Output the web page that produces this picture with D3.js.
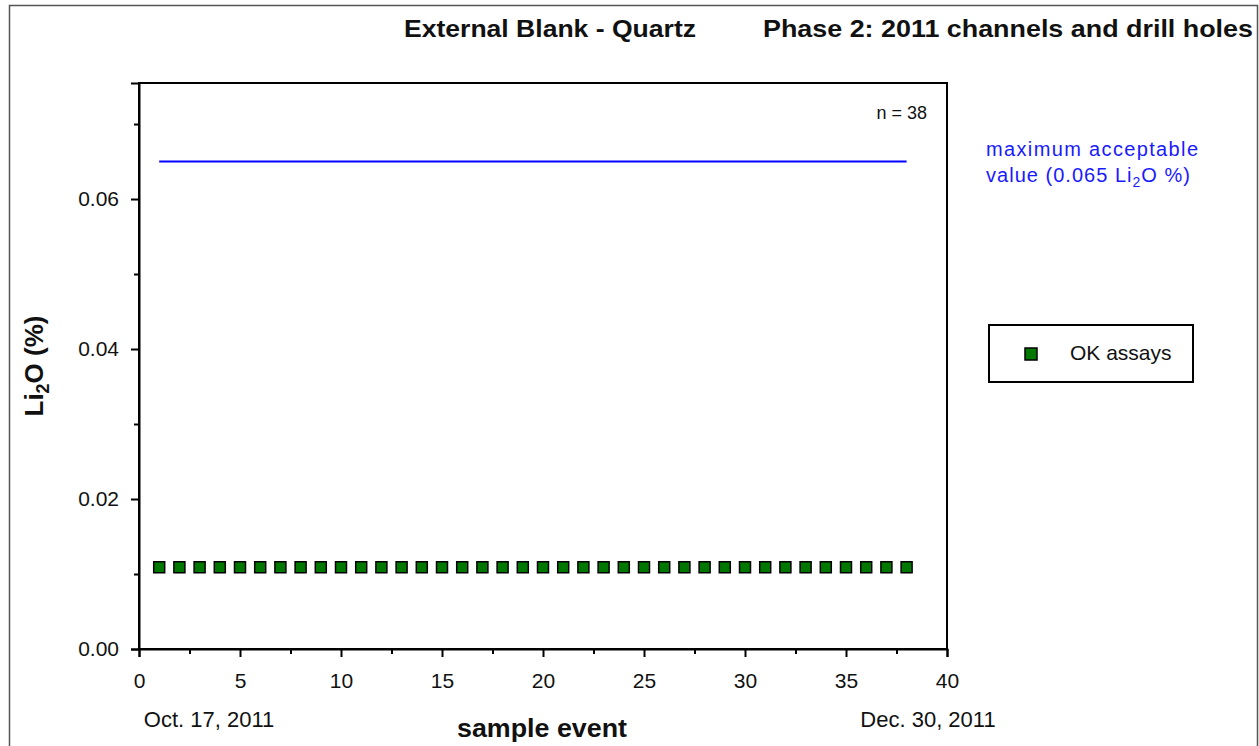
<!DOCTYPE html>
<html>
<head>
<meta charset="utf-8">
<script src="https://cdn.jsdelivr.net/npm/d3@7"></script>
<style>
  html, body { margin: 0; padding: 0; background: #fff; }
  svg { display: block; font-family: "Liberation Sans", Arial, sans-serif; }
</style>
</head>
<body>
<svg id="chart" width="1259" height="746"></svg>
<script>
// Sample events (1..38) and their Li2O assay results (%)
const sampleEvents = d3.range(1, 39);
const li2oValues = [
  0.0109, 0.0109, 0.0109, 0.0109, 0.0109, 0.0109, 0.0109, 0.0109, 0.0109, 0.0109,
  0.0109, 0.0109, 0.0109, 0.0109, 0.0109, 0.0109, 0.0109, 0.0109, 0.0109, 0.0109,
  0.0109, 0.0109, 0.0109, 0.0109, 0.0109, 0.0109, 0.0109, 0.0109, 0.0109, 0.0109,
  0.0109, 0.0109, 0.0109, 0.0109, 0.0109, 0.0109, 0.0109, 0.0109
];
const maxAcceptable = 0.065;
const xTicks = [0, 5, 10, 15, 20, 25, 30, 35, 40];
const xMinorTicks = [2.5, 7.5, 12.5, 17.5, 22.5, 27.5, 32.5, 37.5];
const yTicks = [0.00, 0.02, 0.04, 0.06];
const yMinorTicks = [0.01, 0.03, 0.05, 0.07];

const svg = d3.select("#chart");

// Outer page frame
svg.append("path")
  .attr("d", "M9.5,760 V5.5 H1257.5 V760")
  .attr("fill", "none").attr("stroke", "#555").attr("stroke-width", 1.5);

const plot = { left: 139, right: 947, top: 83, bottom: 649 };

const x = d3.scaleLinear().domain([0, 40]).range([plot.left, plot.right]);
const y = d3.scaleLinear().domain([0, 0.07547]).range([plot.bottom, plot.top]);

// Plot frame
svg.append("rect")
  .attr("x", plot.left).attr("y", plot.top)
  .attr("width", plot.right - plot.left).attr("height", plot.bottom - plot.top)
  .attr("fill", "none").attr("stroke", "#000").attr("stroke-width", 2);

// X axis
svg.append("g").attr("transform", `translate(0,${plot.bottom})`)
  .call(d3.axisBottom(x).tickValues(xTicks).tickFormat(d3.format("d")).tickSize(8).tickPadding(16));
svg.append("g").attr("transform", `translate(0,${plot.bottom})`)
  .call(d3.axisBottom(x).tickValues(xMinorTicks).tickFormat("").tickSize(5))
  .call(g => g.select(".domain").remove());

// Y axis
svg.append("g").attr("transform", `translate(${plot.left},0)`)
  .call(d3.axisLeft(y).tickValues(yTicks).tickFormat(d3.format(".2f")).tickSize(8).tickPadding(12));
svg.append("g").attr("transform", `translate(${plot.left},0)`)
  .call(d3.axisLeft(y).tickValues(yMinorTicks).tickFormat("").tickSize(5))
  .call(g => g.select(".domain").remove());

svg.selectAll(".tick line").attr("stroke", "#000").attr("stroke-width", 2);
svg.selectAll(".domain").attr("stroke", "#000").attr("stroke-width", 2);
svg.selectAll(".tick text")
  .attr("font-family", "'Liberation Sans', Arial, sans-serif")
  .attr("font-size", 21).attr("fill", "#111");

// Maximum acceptable value line
svg.append("line")
  .attr("x1", x(sampleEvents[0])).attr("x2", x(sampleEvents[sampleEvents.length - 1]))
  .attr("y1", y(maxAcceptable)).attr("y2", y(maxAcceptable))
  .attr("stroke", "#0000ff").attr("stroke-width", 2);

// Assay markers
const ms = 11;
svg.append("g").selectAll("rect")
  .data(sampleEvents.map((e, i) => ({ e, v: li2oValues[i] })))
  .join("rect")
  .attr("x", d => x(d.e) - ms / 2).attr("y", d => y(d.v) - ms / 2)
  .attr("width", ms).attr("height", ms)
  .attr("fill", "#007800").attr("stroke", "#000").attr("stroke-width", 1.5);

// Titles
svg.append("text").attr("x", 404).attr("y", 37)
  .attr("font-size", 24).attr("font-weight", "bold").attr("fill", "#111")
  .attr("textLength", 292).attr("lengthAdjust", "spacingAndGlyphs")
  .text("External Blank - Quartz");
svg.append("text").attr("x", 763).attr("y", 37)
  .attr("font-size", 24).attr("font-weight", "bold").attr("fill", "#111")
  .attr("textLength", 490).attr("lengthAdjust", "spacingAndGlyphs")
  .text("Phase 2: 2011 channels and drill holes");

// Sample count
svg.append("text").attr("x", 927).attr("y", 119).attr("text-anchor", "end")
  .attr("font-size", 18).attr("fill", "#111").text("n = 38");

// Axis titles
const yl = svg.append("text")
  .attr("transform", "translate(43,366) rotate(-90)")
  .attr("text-anchor", "middle").attr("font-size", 26).attr("font-weight", "bold").attr("fill", "#111");
yl.append("tspan").text("Li");
yl.append("tspan").attr("font-size", 18).attr("dy", 6).text("2");
yl.append("tspan").attr("dy", -6).text("O (%)");

svg.append("text").attr("x", 542).attr("y", 737).attr("text-anchor", "middle")
  .attr("font-size", 26).attr("font-weight", "bold").attr("fill", "#111")
  .attr("textLength", 170).attr("lengthAdjust", "spacingAndGlyphs")
  .text("sample event");

svg.append("text").attr("x", 209).attr("y", 727).attr("text-anchor", "middle")
  .attr("font-size", 22).attr("fill", "#111").text("Oct. 17, 2011");
svg.append("text").attr("x", 928).attr("y", 727).attr("text-anchor", "middle")
  .attr("font-size", 22).attr("fill", "#111").text("Dec. 30, 2011");

// Threshold annotation
const ann = svg.append("g").attr("fill", "#1a1aff").attr("font-size", 20);
ann.append("text").attr("x", 986).attr("y", 156)
  .attr("textLength", 212).attr("lengthAdjust", "spacing").text("maximum acceptable");
const a2 = ann.append("text").attr("x", 986).attr("y", 182)
  .attr("textLength", 204).attr("lengthAdjust", "spacing");
a2.append("tspan").text("value (0.065 Li");
a2.append("tspan").attr("font-size", 14).attr("dy", 5).text("2");
a2.append("tspan").attr("dy", -5).text("O %)");

// Legend
svg.append("rect").attr("x", 989).attr("y", 325).attr("width", 204).attr("height", 57)
  .attr("fill", "#fff").attr("stroke", "#000").attr("stroke-width", 2);
svg.append("rect").attr("x", 1031 - 6).attr("y", 354 - 6).attr("width", 12).attr("height", 12)
  .attr("fill", "#007800").attr("stroke", "#000").attr("stroke-width", 1.5);
svg.append("text").attr("x", 1070).attr("y", 360).attr("font-size", 21).attr("fill", "#111").text("OK assays");
</script>
</body>
</html>
